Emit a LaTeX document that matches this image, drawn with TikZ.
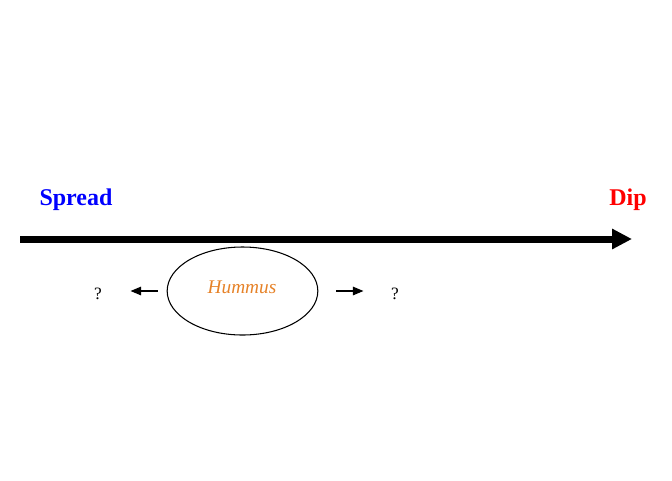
\documentclass[tikz,border=0pt]{standalone}
\usepackage{fontspec}
\setmainfont{Liberation Serif}
\usetikzlibrary{arrows.meta,shapes.geometric}
\definecolor{hummusorange}{RGB}{230,130,40}
\begin{document}
\begin{tikzpicture}[x = 0.75pt,y = -0.75pt]
   \useasboundingbox (0,0) rectangle (672,480);
   \tikzset{small arrow/.style = {-{Triangle[length=8pt,width=6.5pt]},line width = 0.8pt}}
   \coordinate (axisL) at (20,239);
   \coordinate (axisR) at (632,239);
   \draw[line width = 5.25pt,-{Triangle[length=15pt,width=14.5pt]}] (axisL) -- (axisR);
   \node[text = blue,font = \bfseries\fontsize{18}{20}\selectfont] (spread) at (76,199.5) {Spread};
   \node[text = red,font = \bfseries\fontsize{18}{20}\selectfont] (dip) at (628,199.5) {Dip};
   \node[draw,line width = 0.8pt,ellipse,minimum width = 113pt,minimum height = 66pt,inner sep = 0pt] (hum) at (242.5,291) {};
   \node[text = hummusorange,font = \itshape\fontsize{14.5}{16}\selectfont] (humtext) at (242,287) {Hummus};
   \node[font = \fontsize{13}{15}\selectfont] (qL) at (98,294) {?};
   \node[font = \fontsize{13}{15}\selectfont] (qR) at (395,294) {?};
   \draw[small arrow,shorten < = 6.75pt,shorten > = 18pt] (hum.west) -- (qL.east |- hum.west);
   \draw[small arrow,shorten < = 13.5pt,shorten > = 17.25pt] (hum.east) -- (qR.west |- hum.east);
\end{tikzpicture}
\end{document}
